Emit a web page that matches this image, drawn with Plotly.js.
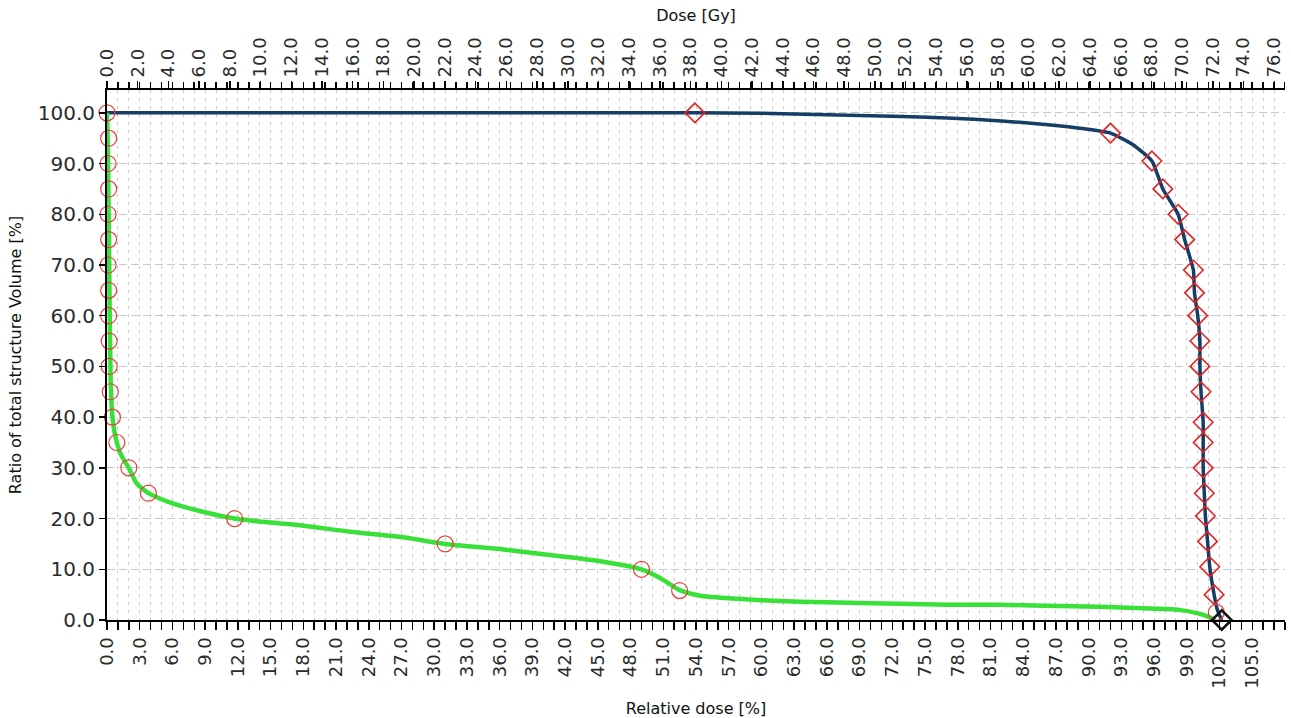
<!DOCTYPE html>
<html>
<head>
<meta charset="utf-8">
<script src="https://cdn.plot.ly/plotly-3.0.1.min.js"></script>
<style>
  html, body { margin: 0; padding: 0; background: #ffffff; }
  #chart { width: 1291px; height: 718px; }
</style>
</head>
<body>
<div id="chart"></div>
<script>
// ---- Data (relative dose in %, volume in %) ----
// Organ-at-risk DVH (green line)
const greenDose = [0, 0.05, 0.1, 0.15, 0.2, 0.25, 0.3, 0.35, 0.5, 0.65, 0.9, 1.3, 2.0, 2.7, 3.8, 5.0, 6.0, 8.5, 11.7, 14.5, 17.7, 22.3, 26.9, 31.0, 36.0, 40.6, 45.2, 49.0, 50.7, 52.5, 54.4, 57.0, 60.0, 63.5, 66.0, 70.0, 72.7, 77.0, 81.9, 86.0, 91.0, 95.0, 98.3, 100.2, 101.0, 101.6];
const greenVol  = [100, 96, 90, 80, 70, 60, 52, 46, 40, 37.5, 35, 32.5, 30, 27, 25, 23.8, 23, 21.5, 20, 19.3, 18.7, 17.4, 16.4, 15, 14, 12.8, 11.6, 10, 8.3, 5.9, 4.8, 4.3, 3.9, 3.6, 3.5, 3.3, 3.2, 3.0, 3.0, 2.8, 2.6, 2.3, 2.0, 1.2, 0.6, 0];
// Circle markers on the green DVH
const circleDose = [0.0, 0.15, 0.1, 0.15, 0.1, 0.15, 0.1, 0.15, 0.15, 0.2, 0.2, 0.3, 0.5, 0.9, 2.0, 3.8, 11.7, 31.0, 49.0, 52.5, 101.7];
const circleVol  = [100, 95, 90, 85, 80, 75, 70, 65, 60, 55, 50, 45, 40, 35, 30, 25, 20, 15, 10, 5.8, 1.5];

// Target DVH (dark blue line)
const blueDose = [0, 20, 40, 53.9, 60, 64, 68, 72, 77, 82, 86.5, 89, 92.0, 94.0, 95.8, 96.8, 98.2, 98.8, 99.6, 99.7, 100.0, 100.2, 100.2, 100.3, 100.5, 100.5, 100.5, 100.6, 100.7, 100.9, 101.1, 101.5, 101.8, 102.2];
const blueVol  = [100, 100, 100, 100, 99.9, 99.7, 99.5, 99.3, 99.0, 98.4, 97.6, 97.0, 96.0, 93.8, 90.5, 85, 80, 75, 69, 64.5, 60, 55, 50, 45, 39, 35, 30, 25, 20.5, 15.5, 10.5, 5, 2, 0];
// Diamond markers on the target DVH
const diamondDose = [53.9, 92.0, 95.8, 96.8, 98.2, 98.8, 99.6, 99.7, 100.0, 100.2, 100.2, 100.3, 100.5, 100.5, 100.5, 100.6, 100.7, 100.9, 101.1, 101.5];
const diamondVol  = [100, 96, 90.5, 85, 80, 75, 69, 64.5, 60, 55, 50, 45, 39, 35, 30, 25, 20.5, 15.5, 10.5, 5];
// Black end-point diamond
const endDose = [102.2];
const endVol  = [0];

// Axis texts
const xTitleBottom = "Relative dose [%]";
const xTitleTop = "Dose [Gy]";
const yTitle = "Ratio of total structure Volume [%]";

// Axis ranges
const relRange = [0, 108];
const gyRange = [0, 76.7];
const volRange = [0, 104.5];

const tickFont = { family: "DejaVu Sans, Verdana, sans-serif", size: 18, color: "#2a2a2a" };
const titleFont = { family: "DejaVu Sans, Verdana, sans-serif", size: 16, color: "#111" };
const gridCol = "#c8c8c8";

const traces = [
  { x: blueDose, y: blueVol, type: "scatter", mode: "lines",
    line: { color: "#163d66", width: 3.5, shape: "spline", smoothing: 0.5 }, hoverinfo: "skip", showlegend: false },
  { x: greenDose, y: greenVol, type: "scatter", mode: "lines",
    line: { color: "#38e038", width: 4.5, shape: "spline", smoothing: 0.6 }, hoverinfo: "skip", showlegend: false },
  { x: circleDose, y: circleVol, type: "scatter", mode: "markers", cliponaxis: false,
    marker: { symbol: "circle-open", size: 16, color: "#e8403a", line: { width: 1.2, color: "#e8403a" } },
    showlegend: false },
  { x: diamondDose, y: diamondVol, type: "scatter", mode: "markers", cliponaxis: false,
    marker: { symbol: "diamond-open", size: 15, color: "#e32222", line: { width: 1.6, color: "#e32222" } },
    showlegend: false },
  { x: endDose, y: endVol, type: "scatter", mode: "markers", cliponaxis: false,
    marker: { symbol: "diamond-open", size: 15, color: "#111", line: { width: 2.5, color: "#111" } },
    showlegend: false },
  // empty trace that only registers the top dose axis
  { x: [], y: [], xaxis: "x2", yaxis: "y", type: "scatter", mode: "lines", showlegend: false, hoverinfo: "skip" }
];

const layout = {
  width: 1291, height: 718,
  paper_bgcolor: "#ffffff", plot_bgcolor: "#ffffff",
  margin: { l: 107, r: 6, t: 90, b: 98 },
  showlegend: false,
  xaxis: {
    range: relRange, autorange: false,
    tick0: 0, dtick: 3, tickformat: ".1f", tickangle: -90,
    tickfont: tickFont, ticks: "outside", ticklen: 8, tickwidth: 1.5, tickcolor: "#000",
    showline: true, linecolor: "#000", linewidth: 2, mirror: false,
    showgrid: true, gridcolor: gridCol, griddash: "3px,5px", gridwidth: 1,
    zeroline: false,
    minor: { dtick: 1, tick0: 0, ticks: "outside", ticklen: 8, tickcolor: "#000", tickwidth: 1.5,
             showgrid: true, gridcolor: gridCol, griddash: "3px,5px", gridwidth: 1 },
    title: { text: xTitleBottom, font: titleFont, standoff: 16 },
    automargin: false
  },
  xaxis2: {
    overlaying: "x", side: "top", anchor: "y",
    range: gyRange, autorange: false,
    tick0: 0, dtick: 2, tickformat: ".1f", tickangle: -90,
    tickfont: tickFont, ticks: "outside", ticklen: 7, tickwidth: 1.5, tickcolor: "#000",
    showline: true, linecolor: "#000", linewidth: 2,
    showgrid: false, zeroline: false,
    minor: { dtick: 0.71, tick0: 0, ticks: "outside", ticklen: 6, tickcolor: "#000", tickwidth: 1.5, showgrid: false },
    title: { text: xTitleTop, font: titleFont, standoff: 12 },
    automargin: false
  },
  yaxis: {
    range: volRange, autorange: false,
    tick0: 0, dtick: 10, tickformat: ".1f",
    tickfont: { family: "DejaVu Sans, Verdana, sans-serif", size: 20, color: "#2a2a2a" },
    ticks: "outside", ticklen: 6, tickwidth: 1.5, tickcolor: "#000",
    showline: true, linecolor: "#000", linewidth: 2,
    showgrid: true, gridcolor: gridCol, griddash: "8px,4px", gridwidth: 1,
    zeroline: false,
    title: { text: yTitle, font: titleFont, standoff: 12 },
    automargin: false
  }
};

Plotly.newPlot("chart", traces, layout, { displayModeBar: false, staticPlot: true });
</script>
</body>
</html>
